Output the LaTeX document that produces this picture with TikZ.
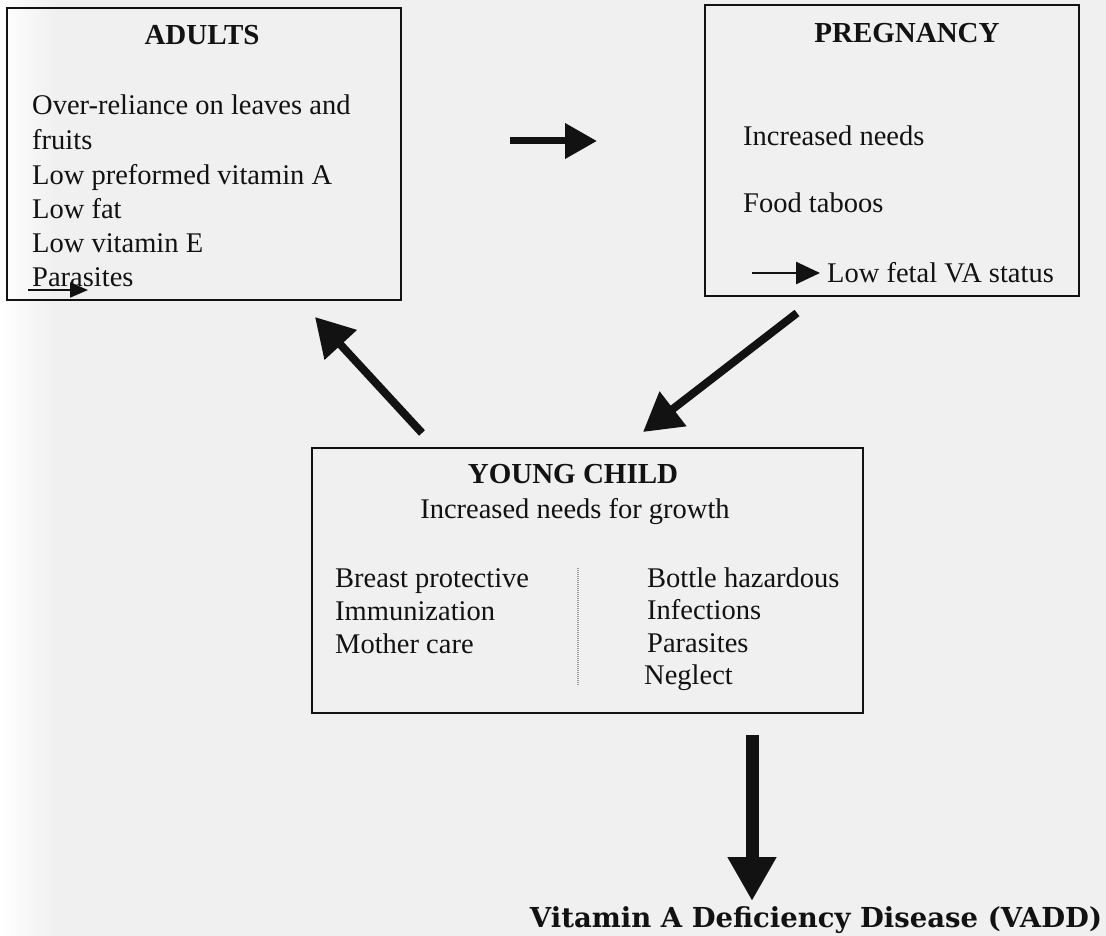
\documentclass[tikz,border=0pt]{standalone}
\usepackage{fontspec}
\setmainfont{Liberation Serif}
\newfontfamily\slabfont{DejaVu Serif}
\usetikzlibrary{arrows.meta}
\definecolor{bgc}{RGB}{240,240,240}
\definecolor{ink}{RGB}{18,18,18}
\begin{document}
\begin{tikzpicture}[x=1pt,y=-1pt,
  panel/.style={draw=ink, line width=1.9pt, rectangle, inner sep=0pt},
  txt/.style={anchor=base west, inner sep=0pt, text=ink, font=\fontsize{28.5}{34}\selectfont},
  head/.style={anchor=base, inner sep=0pt, text=ink, font=\fontsize{29}{34}\selectfont\bfseries},
  bigarrow/.style={draw=ink, line width=8pt, -{Triangle[length=38pt,width=42pt]}},
  midarrow/.style={draw=ink, line width=7pt, -{Triangle[length=32pt,width=34pt]}},
  downarrow/.style={draw=ink, line width=13pt, -{Triangle[length=44pt,width=46pt]}},
  smallarrow/.style={draw=ink, line width=2.6pt, -{Triangle[length=24pt,width=22pt]}},
  tinyarrow/.style={draw=ink, line width=2pt, -{Triangle[length=18pt,width=15pt]}},
  divider/.style={draw=gray!80, line width=2pt, dash pattern=on 1.2pt off 0.8pt}
]
\useasboundingbox (0,0) rectangle (1106,936);
\fill[bgc] (0,0) rectangle (1106,936);
\shade[left color=white, right color=bgc] (0,0) rectangle (55,936);

% boxes
\node[panel, minimum width=394pt, minimum height=292pt] (adults) at (204,154) {};
\node[panel, minimum width=374pt, minimum height=291pt] (preg) at (892,150.5) {};
\node[panel, minimum width=551pt, minimum height=265pt] (child) at (587.5,580.5) {};

% ADULTS text
\node[head] (adultsT) at (202,45) {ADULTS};
\node[txt] (ad1) at (32,115) {Over-reliance on leaves and};
\node[txt] (ad2) at (32,150) {fruits};
\node[txt] (ad3) at (32,185) {Low preformed vitamin A};
\node[txt] (ad4) at (32,219) {Low fat};
\node[txt] (ad5) at (32,253) {Low vitamin E};
\node[txt] (ad6) at (32,287) {Parasites};
\coordinate (ps) at (28,290);
\coordinate (pe) at (88,290);
\draw[tinyarrow] (ps) -- (pe);

% PREGNANCY text
\node[head] (pregT) at (907,43) {PREGNANCY};
\node[txt] (pr1) at (743,146) {Increased needs};
\node[txt] (pr2) at (743,213) {Food taboos};
\node[txt] (pr3) at (827,282) {Low fetal VA status};
\coordinate (ls) at (752,273);
\coordinate (le) at (820,273);
\draw[smallarrow] (ls) -- (le);

% YOUNG CHILD text
\node[head] (childT) at (573,483) {YOUNG CHILD};
\node[anchor=base, inner sep=0pt, text=ink, font=\fontsize{28.5}{34}\selectfont] (ch0) at (575,518) {Increased needs for growth};
\node[txt] (cl1) at (335,587) {Breast protective};
\node[txt] (cl2) at (335,620) {Immunization};
\node[txt] (cl3) at (335,653) {Mother care};
\node[txt] (cr1) at (647,587) {Bottle hazardous};
\node[txt] (cr2) at (647,619) {Infections};
\node[txt] (cr3) at (647,652) {Parasites};
\node[txt] (cr4) at (644,684) {Neglect};
\coordinate (dv1) at (578,568);
\coordinate (dv2) at (578,686);
\draw[divider] (dv1) -- (dv2);

% connectors
\coordinate (m1) at (510,141);
\coordinate (m2) at (597,141);
\draw[midarrow] (m1) -- (m2);

\coordinate (c2a1) at (422,433);
\coordinate (c2a2) at (315,317);
\draw[bigarrow] (c2a1) -- (c2a2);

\coordinate (p2c1) at (797,313);
\coordinate (p2c2) at (643,432);
\draw[bigarrow] (p2c1) -- (p2c2);

\coordinate (d1) at (752,735);
\coordinate (d2) at (752,901);
\draw[downarrow] (d1) -- (d2);

% bottom label
\node[anchor=base, inner sep=0pt, text=ink] (vadd) at (816,927)
  {\resizebox{572pt}{!}{\slabfont\bfseries Vitamin A Deficiency Disease (VADD)}};
\end{tikzpicture}
\end{document}
